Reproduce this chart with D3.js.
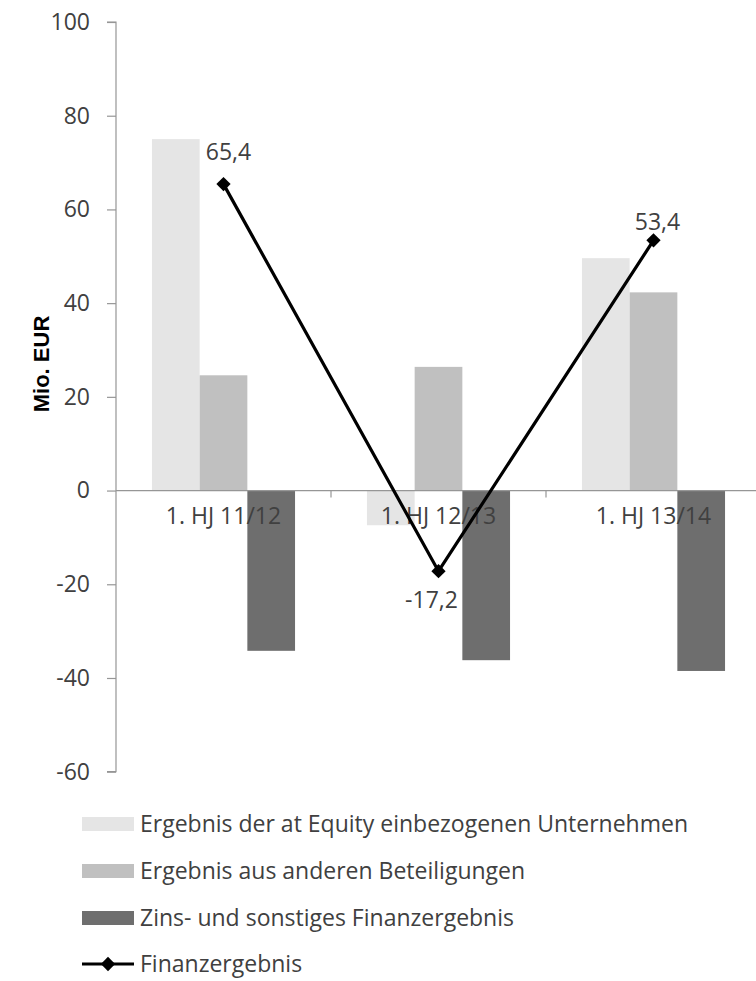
<!DOCTYPE html>
<html>
<head>
<meta charset="utf-8">
<script src="https://cdn.jsdelivr.net/npm/d3@7"></script>
<style>
  html, body { margin: 0; padding: 0; background: #fff; }
  svg { display: block; }
  text { font-family: "Open Sans", "Noto Sans", sans-serif; fill: #404040; }
</style>
</head>
<body>
<svg id="chart" width="756" height="981"></svg>
<script>
const categories = ["1. HJ 11/12", "1. HJ 12/13", "1. HJ 13/14"];
const seriesNames = [
  "Ergebnis der at Equity einbezogenen Unternehmen",
  "Ergebnis aus anderen Beteiligungen",
  "Zins- und sonstiges Finanzergebnis"
];
const equityValues = [75.0, -7.4, 49.6];
const beteiligungenValues = [24.6, 26.4, 42.3];
const zinsValues = [-34.2, -36.2, -38.5];
const lineName = "Finanzergebnis";
const finanzergebnis = [65.4, -17.2, 53.4];
const finanzLabels = ["65,4", "-17,2", "53,4"];
const yTicks = [-60, -40, -20, 0, 20, 40, 60, 80, 100];
const yTitle = "Mio. EUR";

const colors = ["#e5e5e5", "#c0c0c0", "#6e6e6e"];
const seriesValues = [equityValues, beteiligungenValues, zinsValues];
// label nudges (dx, dy) relative to the point
const labelNudge = [[5, -24], [-7, 37], [4, -10]];
const FS = 23;

const svg = d3.select("#chart");
const plotLeft = 116, plotRight = 761, plotTop = 22, plotBottom = 771.7;

const y = d3.scaleLinear().domain([-60, 100]).range([plotBottom, plotTop]);
const x0 = d3.scaleBand().domain(categories).range([plotLeft, plotRight]).padding(0);
const x1 = d3.scaleBand().domain(d3.range(seriesNames.length)).range([0, x0.bandwidth()]).paddingInner(0).paddingOuter(0.754);

// bars
const gBars = svg.append("g");
seriesValues.forEach((vals, si) => {
  gBars.selectAll(null).data(vals).join("rect")
    .attr("x", (d, i) => x0(categories[i]) + x1(si))
    .attr("width", x1.bandwidth())
    .attr("y", d => y(Math.max(0, d)))
    .attr("height", d => Math.abs(y(d) - y(0)))
    .attr("fill", colors[si]);
});

// y axis
const yAxis = d3.axisLeft(y).tickValues(yTicks).tickSize(9).tickPadding(17).tickFormat(d => String(d));
const gy = svg.append("g").attr("transform", `translate(${plotLeft},0)`).call(yAxis);
gy.select(".domain").attr("stroke", "#969696").attr("stroke-width", 1.2).attr("d", `M-9,${y(100)}H0V${y(-60)}H-9`);
gy.selectAll(".tick line").attr("stroke", "#969696").attr("stroke-width", 1.2);
gy.selectAll(".tick text").attr("font-size", FS).attr("fill", "#404040")
  .style("font-family", '"Open Sans", sans-serif');

// x axis line at zero
svg.append("line").attr("x1", plotLeft).attr("x2", 756).attr("y1", y(0)).attr("y2", y(0))
  .attr("stroke", "#969696").attr("stroke-width", 1.2);
// category separator ticks
categories.slice(1).forEach(c => {
  svg.append("line").attr("x1", x0(c)).attr("x2", x0(c)).attr("y1", y(0)).attr("y2", y(0) + 7)
    .attr("stroke", "#969696").attr("stroke-width", 1.2);
});
// category labels
svg.selectAll(null).data(categories).join("text")
  .attr("x", d => x0(d) + x0.bandwidth() / 2)
  .attr("y", y(0) + 33)
  .attr("text-anchor", "middle")
  .attr("font-size", FS)
  .text(d => d);

// line
const cx = i => x0(categories[i]) + x0.bandwidth() / 2;
const line = d3.line().x((d, i) => cx(i)).y(d => y(d));
svg.append("path").datum(finanzergebnis).attr("d", line)
  .attr("fill", "none").attr("stroke", "#000").attr("stroke-width", 3.2);
const diamond = d3.symbol().type(d3.symbolDiamond2).size(130);
svg.selectAll(null).data(finanzergebnis).join("path")
  .attr("d", diamond)
  .attr("transform", (d, i) => `translate(${cx(i)},${y(d)})`)
  .attr("fill", "#000");
// data labels
svg.selectAll(null).data(finanzergebnis).join("text")
  .attr("x", (d, i) => cx(i) + labelNudge[i][0])
  .attr("y", (d, i) => y(d) + labelNudge[i][1])
  .attr("text-anchor", "middle")
  .attr("font-size", FS)
  .text((d, i) => finanzLabels[i]);

// y title
svg.append("text")
  .attr("transform", `translate(49,${364}) rotate(-90)`)
  .attr("text-anchor", "middle")
  .attr("font-size", 22)
  .attr("font-weight", "bold")
  .style("font-family", '"Liberation Sans", Arial, sans-serif')
  .style("fill", "#000")
  .text(yTitle);

// legend
const legendRows = [824, 871, 918, 964];
const lg = svg.append("g");
seriesNames.forEach((name, i) => {
  lg.append("rect").attr("x", 82).attr("y", legendRows[i] - 7).attr("width", 52).attr("height", 14).attr("fill", colors[i]);
  lg.append("text").attr("x", 140).attr("y", legendRows[i]).attr("dy", "0.33em").attr("font-size", FS).text(name);
});
lg.append("line").attr("x1", 82).attr("x2", 134).attr("y1", legendRows[3]).attr("y2", legendRows[3])
  .attr("stroke", "#000").attr("stroke-width", 3.2);
lg.append("path").attr("d", diamond).attr("transform", `translate(108,${legendRows[3]})`).attr("fill", "#000");
lg.append("text").attr("x", 140).attr("y", legendRows[3]).attr("dy", "0.33em").attr("font-size", FS).text(lineName);
</script>
</body>
</html>
